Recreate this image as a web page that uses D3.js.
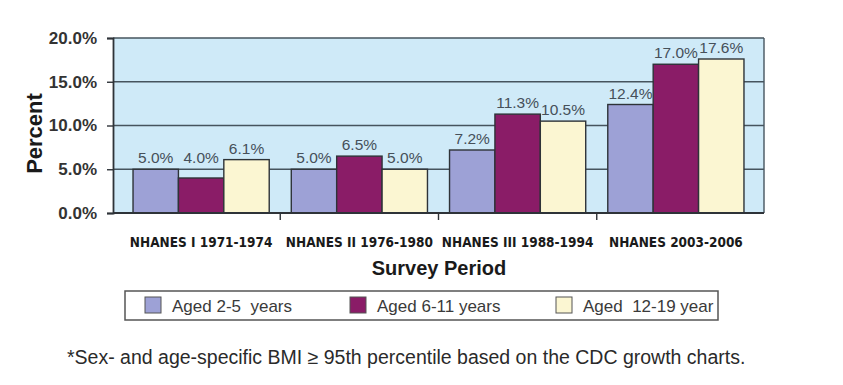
<!DOCTYPE html>
<html><head><meta charset="utf-8">
<script src="https://cdn.jsdelivr.net/npm/d3@7"></script>
<style>body{margin:0;background:#fff}svg{display:block}</style>
</head><body>
<svg id="c" width="843" height="385"></svg>
<script>
const categories = ["NHANES I 1971-1974","NHANES II 1976-1980","NHANES III 1988-1994","NHANES 2003-2006"];
const seriesNames = ["Aged 2-5  years","Aged 6-11 years","Aged  12-19 year"];
const aged2to5 = [5.0, 5.0, 7.2, 12.4];
const aged6to11 = [4.0, 6.5, 11.3, 17.0];
const aged12to19 = [6.1, 5.0, 10.5, 17.6];
const yTicks = [0, 5, 10, 15, 20];
const colors = ["#9da1d6", "#8a1c67", "#fbf6d2"];
const series = [aged2to5, aged6to11, aged12to19];

const svg = d3.select("#c");
const L = 113, R = 764, T = 38, B = 213;
const x = d3.scaleBand().domain(categories).range([122, 755]);
const xi = d3.scaleBand().domain(d3.range(3)).range([0, x.bandwidth()]).paddingOuter(0.243);
const y = d3.scaleLinear().domain([0, 20]).range([B, T]);
const FONT = "Liberation Sans, Arial, sans-serif";

svg.append("rect").attr("x", L).attr("y", T).attr("width", R - L).attr("height", B - T).attr("fill", "#cfeaf8");

// gridlines
svg.append("g").selectAll("line").data(yTicks.filter(d => d > 0)).join("line")
  .attr("x1", L).attr("x2", R).attr("y1", d => y(d)).attr("y2", d => y(d))
  .attr("stroke", "#46545e").attr("stroke-width", 1.4);
svg.append("line").attr("x1", R).attr("x2", R).attr("y1", T).attr("y2", B).attr("stroke", "#46545e").attr("stroke-width", 1.4);

// bars
const g = svg.append("g");
categories.forEach((c, ci) => {
  series.forEach((s, si) => {
    g.append("rect")
      .attr("x", x(c) + xi(si)).attr("width", xi.bandwidth())
      .attr("y", y(s[ci])).attr("height", B - y(s[ci]))
      .attr("fill", colors[si]).attr("stroke", "#2e3338").attr("stroke-width", 1.4);
    // labels never sit below the first gridline (avoids overlap, as in the original)
    g.append("text")
      .attr("x", x(c) + xi(si) + xi.bandwidth() / 2).attr("y", Math.min(y(s[ci]), y(yTicks[1])) - 6)
      .attr("text-anchor", "middle").attr("font-family", FONT)
      .attr("font-size", 15.5).attr("fill", "#46505a")
      .text(s[ci].toFixed(1) + "%");
  });
});

// y axis
const ya = svg.append("g").attr("transform", `translate(${L},0)`)
  .call(d3.axisLeft(y).tickValues(yTicks).tickSize(6).tickPadding(10).tickFormat(d => d.toFixed(1) + "%"));
ya.select(".domain").attr("stroke", "#2e3338").attr("stroke-width", 1.8);
ya.selectAll(".tick line").attr("stroke", "#2e3338").attr("stroke-width", 1.4);
ya.selectAll("text").attr("font-family", FONT).attr("font-size", 17)
  .attr("font-weight", "bold").attr("fill", "#333");

// x axis
const xa = svg.append("g").attr("transform", `translate(0,${B})`)
  .call(d3.axisBottom(x).tickSize(0).tickPadding(24));
xa.select(".domain").attr("stroke", "#2e3338").attr("stroke-width", 1.8).attr("d", `M${L},0H${R}`);
xa.selectAll("text").attr("font-family", "DejaVu Sans Condensed, sans-serif").attr("font-size", 13.5)
  .attr("font-weight", "bold").attr("fill", "#1a1a1a");
svg.append("g").selectAll("line").data(categories.slice(1)).join("line")
  .attr("x1", d => x(d)).attr("x2", d => x(d)).attr("y1", B).attr("y2", B + 7)
  .attr("stroke", "#2e3338").attr("stroke-width", 1.4);

// axis titles
svg.append("text").attr("transform", `translate(42,${(T + B) / 2 + 8}) rotate(-90)`)
  .attr("text-anchor", "middle").attr("font-family", FONT)
  .attr("font-size", 22).attr("font-weight", "bold").attr("fill", "#1a1a1a").text("Percent");
svg.append("text").attr("x", 439).attr("y", 275).attr("text-anchor", "middle")
  .attr("font-family", FONT).attr("font-size", 20)
  .attr("font-weight", "bold").attr("fill", "#1a1a1a").text("Survey Period");

// legend
svg.append("rect").attr("x", 125).attr("y", 291).attr("width", 593).attr("height", 29)
  .attr("fill", "#fff").attr("stroke", "#555").attr("stroke-width", 1.5);
const legX = [145, 350, 556];
seriesNames.forEach((n, i) => {
  svg.append("rect").attr("x", legX[i]).attr("y", 297).attr("width", 16).attr("height", 16)
    .attr("fill", colors[i]).attr("stroke", "#555").attr("stroke-width", 1);
  svg.append("text").attr("x", legX[i] + 27).attr("y", 312)
    .attr("font-family", FONT).attr("font-size", 17)
    .attr("fill", "#3a3a3a").attr("xml:space", "preserve").style("white-space", "pre").text(n);
});

// footnote
svg.append("text").attr("x", 67).attr("y", 364)
  .attr("font-family", FONT).attr("font-size", 19.5)
  .attr("fill", "#2a2a2a").text("*Sex- and age-specific BMI \u2265 95th percentile based on the CDC growth charts.");
</script>
</body></html>
